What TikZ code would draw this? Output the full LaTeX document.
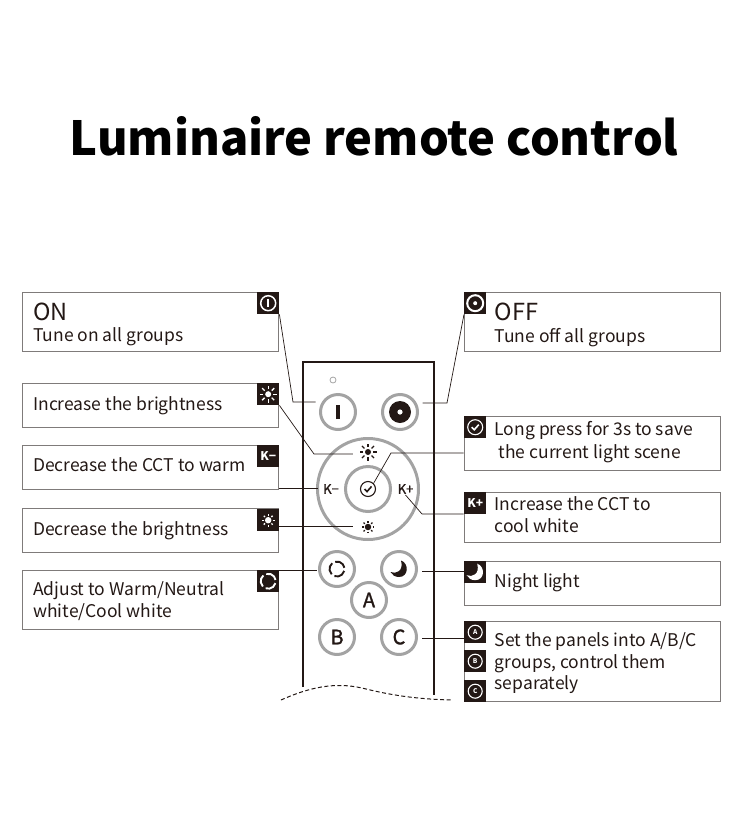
\documentclass[tikz,border=0pt]{standalone}
\usepackage{fontspec}
\setmainfont{Noto Sans CJK SC}
\newfontfamily\halbfett[FakeBold=1.2]{Noto Sans CJK SC}
\usetikzlibrary{positioning}
\definecolor{tinte}{HTML}{231815}
\definecolor{ringgrau}{HTML}{A3A3A3}
\definecolor{rahmen}{HTML}{7F7B7A}

\tikzset{
	pics/sunup/.style={code={
		\fill circle (3pt);
		\foreach \a in {0,45,...,315} \draw [line width=1.3pt] (\a:5pt) -- (\a:8.5pt);
	}},
	pics/sundown/.style={code={
		\fill circle (3.6pt);
		\foreach \a in {0,45,...,315} \draw [line width=1.3pt] (\a:5pt) -- (\a:7pt);
	}},
	pics/powerglyph/.style={code={
		\draw [line width=1.5pt] circle (7.5pt);
		\draw [line width=1.6pt] (0,-4) -- (0,4);
	}},
	pics/offglyph/.style={code={
		\draw [line width=2pt] circle (8pt);
		\fill circle (2pt);
	}},
	pics/checkglyph/.style={code={
		\draw [line width=1.1pt] circle (7.5pt);
		\draw [line width=1.6pt] (-3.5,0) -- (-1,2.6) -- (3.6,-2.6);
	}},
	pics/loopglyph/.style={code={
		\foreach \a in {10,130,250} \draw [line width=1.9pt] (\a:7.5pt) arc [start angle=\a, end angle=\a+95, radius=7.5pt];
	}},
	pics/moonglyph/.style={code={
		\fill (2,-8.5) .. controls (10,-6) and (10,8) .. (0,8) .. controls (-4,8) and (-7,6) .. (-8.5,3) .. controls (-3,5.5) and (5,2) .. (2,-8.5) -- cycle;
	}},
	pics/ringglyph/.style={code={
		\draw [line width=1.1pt] circle (7pt);
	}}
}

\begin{document}
\begin{tikzpicture} [ x=1pt, y=-1pt
								, every node/.style={text=tinte}
								, box/.style={rectangle, draw=rahmen, line width=1pt, minimum width=256pt, anchor=north west, inner sep=0pt}
								, iconbox/.style={rectangle, fill=tinte, minimum size=22pt, inner sep=0pt, anchor=north west, text=white, font=\fontsize{12}{12}\selectfont\bfseries}
								, lettericon/.style={iconbox, font=\fontsize{6.5}{7}\selectfont\bfseries}
								, label/.style={anchor=base west, inner sep=0pt, align=left, font=\fontsize{17.5}{21.5}\selectfont}
								, button/.style={circle, draw=ringgrau, line width=3pt, minimum size=35pt, inner sep=0pt, outer sep=5pt, font=\fontsize{20}{20}\halbfett}
								, spot/.style={circle, minimum size=30pt, inner sep=0pt}
								, leader/.style={draw=tinte, line width=.7pt}
								]
	\useasboundingbox (0,0) rectangle (750,817);

	\node (title) [text=black, font=\fontsize{47}{47}\selectfont\bfseries] at (374,136) {Luminaire remote control};

	% left column
	\node (onbox) 		[box, minimum height=59pt] at (22,292) {};
	\node (brightbox) 	[box, minimum height=44pt] at (22,383) {};
	\node (warmbox) 		[box, minimum height=44pt] at (22,445) {};
	\node (dimbox) 		[box, minimum height=44pt] at (22,508) {};
	\node (adjustbox) 	[box, minimum height=59pt] at (22,570) {};
	\node [label, font=\fontsize{23.5}{24}\selectfont] at (33,320) {ON};
	\node [label] at (33,341) {Tune on all groups};
	\node [label] at (33,410) {Increase the brightness};
	\node [label] at (33,471) {Decrease the CCT to warm};
	\node [label] at (33,535) {Decrease the brightness};
	\node [label] at (33,617) {Adjust to Warm/Neutral\\white/Cool white};

	\node (onicon) 		[iconbox] at (257,292) {};
	\node (brighticon) 	[iconbox] at (257,383) {};
	\node (warmicon) 		[iconbox] at (257,445) {K−};
	\node (dimicon) 		[iconbox] at (257,509) {};
	\node (adjusticon) 	[iconbox] at (257,570) {};
	\pic [white] at (onicon) {powerglyph};
	\pic [white] at (brighticon) {sunup};
	\pic [white, scale=.9] at (dimicon) {sundown};
	\pic [white] at (adjusticon) {loopglyph};

	% right column
	\node (offbox) 		[box, minimum height=59pt] at (463.5,292) {};
	\node (savebox) 		[box, minimum height=54pt] at (463.5,416) {};
	\node (coolbox) 		[box, minimum height=50pt] at (463.5,492) {};
	\node (nightbox) 		[box, minimum height=44pt] at (463.5,561) {};
	\node (groupbox) 		[box, minimum height=80pt] at (463.5,621) {};
	\node [label, font=\fontsize{23.5}{24}\selectfont] at (494.5,320) {OFF};
	\node [label] at (494.5,342) {Tune off all groups};
	\node [label] at (494.5,458) {Long press for 3s to save\\[1.5pt]\hspace*{4pt}the current light scene};
	\node [label] at (494.5,532) {Increase the CCT to\\cool white};
	\node [label] at (494.5,587) {Night light};
	\node [label] at (494.5,689.5) {Set the panels into A/B/C\\groups, control them\\separately};

	\node (officon) 		[iconbox] at (464,292) {};
	\node (saveicon) 		[iconbox] at (464,416) {};
	\node (coolicon) 		[iconbox] at (464,492) {K+};
	\node (nighticon) 	[iconbox] at (464,561) {};
	\node (aicon) 			[lettericon] at (464,621) {A};
	\node (bicon) 			[lettericon] at (464,650) {B};
	\node (cicon) 			[lettericon] at (464,680) {C};
	\pic [white] at (officon) {offglyph};
	\pic [white] at (saveicon) {checkglyph};
	\pic [white] at (nighticon) {moonglyph};
	\pic [white] at (aicon) {ringglyph};
	\pic [white] at (bicon) {ringglyph};
	\pic [white] at (cicon) {ringglyph};

	% remote
	\draw [tinte, line width=1.2pt] (303,687) -- (303,362) -- (434,362) -- (434,695);
	\draw [tinte, line width=1pt, dashed, dash pattern=on 4pt off 2.5pt] (281,700) .. controls (310,687) and (335,682) .. (362,688) .. controls (390,695) and (415,699) .. (451,700);
	\node (led) [circle, draw=ringgrau, line width=.8pt, minimum size=6pt, inner sep=0pt] at (333,380) {};

	\node (onbtn) 		[button] at (338,412) {\rule{3.2pt}{14pt}};
	\node (offbtn) 		[button] at (400,412) {};
	\fill [tinte] (offbtn) circle (11pt);
	\fill [white] (offbtn) circle (2.6pt);
	\node (wheel) 		[button, minimum size=101pt, outer sep=0pt] at (368,489) {};
	\node (okbtn) 		[button, minimum size=45pt] at (368,489) {};
	\node (loopbtn) 		[button, outer sep=3pt] at (337,569) {};
	\node (moonbtn) 		[button] at (399,569) {};
	\node (abtn) 			[button] at (369,600) {A};
	\node (bbtn) 			[button] at (337,637) {B};
	\node (cbtn) 			[button] at (399,637) {C};
	\node (upsun) 		[spot] at (368,452) {};
	\node (downsun) 		[spot] at (368,527) {};
	\node (okcheck) 		[circle, minimum size=15pt, inner sep=0pt] at (368,489) {};
	\node (kminus) 		[inner sep=1pt, font=\fontsize{13}{13}\halbfett] at (331,489) {K−};
	\node (kplus) 		[inner sep=1pt, font=\fontsize{13}{13}\halbfett] at (405.5,489) {K+};
	\pic [tinte] at (upsun) {sunup};
	\pic [tinte, scale=.9] at (downsun) {sundown};
	\pic [tinte] at (okcheck) {checkglyph};
	\pic [tinte] at (loopbtn) {loopglyph};
	\pic [tinte] at (moonbtn) {moonglyph};

	% leaders
	\draw [leader] (onicon.south east) -- (293,402) -- (onbtn.west |- 0,402);
	\draw [leader] (officon.south west) -- (447,403) -- (offbtn.east |- 0,403);
	\draw [leader] (brighticon.south east) -- (314,454) -- (upsun.west |- 0,454);
	\draw [leader] (warmbox.east |- 0,488) -- (wheel.west |- 0,488);
	\draw [leader] (dimbox.east |- 0,526) -- (downsun.west |- 0,526);
	\draw [leader] (adjusticon.north east) -- (loopbtn.west |- 0,570);
	\draw [leader] (savebox.west |- 0,453) -- (391,453) -- (okcheck.north east);
	\draw [leader] (coolbox.west |- 0,514) -- (422,514) -- (kplus.south);
	\draw [leader] (nightbox.west |- 0,571) -- (moonbtn.east |- 0,571);
	\draw [leader] (groupbox.west |- 0,638) -- (cbtn.east |- 0,638);
\end{tikzpicture}
\end{document}
